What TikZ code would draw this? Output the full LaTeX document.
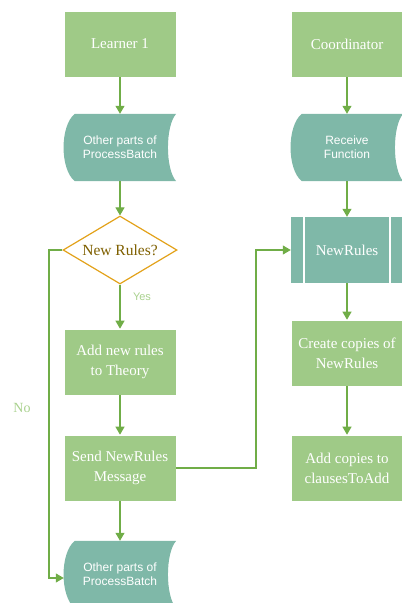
\documentclass[tikz,border=0pt]{standalone}
\usepackage{fontspec}
\setmainfont{Liberation Serif}
\newfontfamily\labelsans{Liberation Sans}
\usetikzlibrary{arrows.meta,shapes.geometric}

\definecolor{boxgreen}{HTML}{9FCA87}
\definecolor{dataTeal}{HTML}{7FB8A8}
\definecolor{flowgreen}{HTML}{70AD47}
\definecolor{decisiongold}{HTML}{E3A21A}
\definecolor{decisiontext}{HTML}{7F6000}
\definecolor{notegreen}{HTML}{A9D18E}

\tikzset{
  procbox/.style={rectangle, fill=boxgreen, draw=white, line width=0.6pt,
    minimum width=112pt, minimum height=66pt, align=center, text=white,
    font=\fontsize{15}{20}\selectfont, inner sep=2pt},
  datahold/.style={rectangle, minimum width=112pt, minimum height=67pt,
    align=center, text=white, font=\labelsans\fontsize{12}{14}\selectfont, inner sep=0pt},
  decision/.style={diamond, draw=decisiongold, line width=1.2pt, fill=white,
    minimum width=114pt, minimum height=68pt, aspect=1.68, inner sep=0pt,
    text=decisiontext, font=\fontsize{15.5}{18}\selectfont},
  flow/.style={draw=flowgreen, line width=1.1pt, -{Triangle[length=8pt,width=9pt]}},
  notelabel/.style={text=notegreen},
}

% stored-data outline around a named node: convex left side, concave right side
\newcommand{\storedoutline}[1]{%
  \fill[dataTeal]
    ([xshift=11pt]#1.north west) -- (#1.north east)
    .. controls ([xshift=-11pt,yshift=-12pt]#1.north east) and ([xshift=-11pt,yshift=12pt]#1.south east) .. (#1.south east)
    -- ([xshift=11pt]#1.south west)
    .. controls ([xshift=-4pt,yshift=12pt]#1.south west) and ([xshift=-4pt,yshift=-12pt]#1.north west) .. ([xshift=11pt]#1.north west)
    -- cycle;}

\begin{document}
\begin{tikzpicture}[x=1pt,y=-1pt]
\useasboundingbox (0,0) rectangle (402,603);
\clip (0,0) rectangle (402,603);

% left column: learner
\node[procbox] (learner) at (120,44) {Learner 1};
\node[datahold] (otherA) at (120,147.5) {};
\storedoutline{otherA}
\node[datahold] at (otherA) {Other parts of\\ProcessBatch};
\node[decision] (newrules) at (120,250) {New Rules?};
\node[procbox] (addrules) at (120,362) {Add new rules\\to Theory};
\node[procbox] (send) at (120,468) {Send NewRules\\Message};
\node[datahold] (otherB) at (120,574.5) {};
\storedoutline{otherB}
\node[datahold] at (otherB) {Other parts of\\ProcessBatch};

% right column: coordinator
\node[procbox] (coord) at (347,44) {Coordinator};
\node[datahold] (receive) at (347,147.5) {};
\storedoutline{receive}
\node[datahold] at (receive) {Receive\\Function};
\node[rectangle, fill=dataTeal, minimum width=112pt, minimum height=66pt,
      text=white, font=\fontsize{15}{18}\selectfont] (nr) at (347,250) {NewRules};
\draw[white, line width=1.2pt] (304,217) -- (304,283) (390,217) -- (390,283);
\node[procbox] (copies) at (347,353) {Create copies of\\NewRules};
\node[procbox] (clauses) at (347,468) {Add copies to\\clausesToAdd};

% connectors
\draw[flow] (learner) -- (otherA);
\draw[flow] (otherA) -- (newrules);
\draw[flow] (newrules) -- (addrules);
\draw[flow] (addrules) -- (send);
\draw[flow] (send) -- (otherB);
\coordinate (noturn) at (49,578);
\draw[flow] (newrules.west) -- (49,250) -- (noturn) -- (otherB.west |- noturn);
\draw[flow] (send.east) -- (256,468) -- (256,250) -- (nr.west);

\draw[flow] (coord) -- (receive);
\draw[flow] (receive) -- (nr);
\draw[flow] (nr) -- (copies);
\draw[flow] (copies) -- (clauses);

% branch labels
\node[notelabel, font=\labelsans\fontsize{11}{13}\selectfont] (yes) at (142,297) {Yes};
\node[notelabel, font=\fontsize{14}{16}\selectfont] (no) at (22,408) {No};
\end{tikzpicture}
\end{document}
